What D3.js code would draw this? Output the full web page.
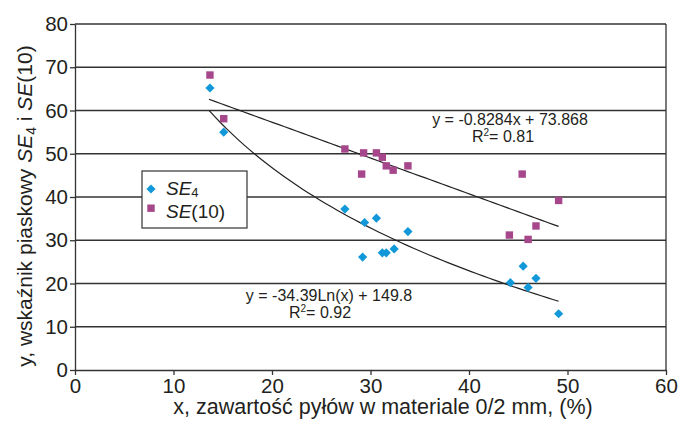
<!DOCTYPE html>
<html>
<head>
<meta charset="utf-8">
<script src="https://cdn.jsdelivr.net/npm/d3@7"></script>
<style>
  body { margin: 0; background: #fff; }
  svg text { font-family: "Liberation Sans", Arial, sans-serif; fill: #231f20; }
</style>
</head>
<body>
<div id="chart"></div>
<script>
"use strict";

// SE4 points (x = dust content %, y = sand equivalent)
var se4X = [13.7, 15.1, 27.4, 29.4, 29.2, 30.6, 31.2, 31.6, 32.4, 33.8, 44.2, 45.5, 46.0, 46.8, 49.1];
var se4Y = [65.2, 55.0, 37.2, 34.1, 26.1, 35.1, 27.1, 27.1, 28.0, 32.0, 20.2, 24.0, 19.1, 21.2, 13.0];

// SE(10) points
var se10X = [13.7, 15.1, 27.4, 29.3, 29.1, 30.6, 31.2, 31.6, 32.3, 33.8, 45.4, 49.1, 44.1, 46.0, 46.8];
var se10Y = [68.2, 58.1, 51.1, 50.2, 45.3, 50.2, 49.2, 47.2, 46.2, 47.2, 45.3, 39.2, 31.2, 30.2, 33.3];

// trendline coefficients as printed on the chart
var linSlope = -0.8284, linIntercept = 73.868;
var logSlope = -34.39, logIntercept = 149.8;
var trendRange = [13.6, 49.1];

var xTicks = [0, 10, 20, 30, 40, 50, 60];
var yTicks = [0, 10, 20, 30, 40, 50, 60, 70, 80];

var width = 683, height = 426;
var svg = d3.select("#chart").append("svg")
    .attr("width", width)
    .attr("height", height);

var x = d3.scaleLinear().domain([0, 60]).range([75, 666]);
var y = d3.scaleLinear().domain([0, 80]).range([370, 24]);

var ink = "#333";

// horizontal grid lines
svg.append("g").selectAll("line")
    .data(yTicks.slice(1))
    .enter().append("line")
    .attr("x1", x(0)).attr("x2", x(60))
    .attr("y1", function(d) { return y(d); })
    .attr("y2", function(d) { return y(d); })
    .attr("stroke", ink).attr("stroke-width", 1.3);

// right border
svg.append("line")
    .attr("x1", x(60)).attr("x2", x(60))
    .attr("y1", y(0)).attr("y2", y(80))
    .attr("stroke", ink).attr("stroke-width", 1.3);

// axes
var xAxis = svg.append("g")
    .attr("transform", "translate(0," + y(0) + ")")
    .call(d3.axisBottom(x).tickValues(xTicks).tickSize(5).tickSizeOuter(0));
var yAxis = svg.append("g")
    .attr("transform", "translate(" + x(0) + ",0)")
    .call(d3.axisLeft(y).tickValues(yTicks).tickSize(5).tickSizeOuter(0));

[xAxis, yAxis].forEach(function(ax) {
    ax.select(".domain").attr("stroke", ink).attr("stroke-width", 1.3);
    ax.selectAll(".tick line").attr("stroke", ink).attr("stroke-width", 1.3);
    ax.selectAll(".tick text")
        .attr("font-family", "Liberation Sans, Arial, sans-serif")
        .attr("font-size", 20.5)
        .attr("fill", "#231f20");
});
xAxis.selectAll(".tick text").attr("y", 8).attr("dy", "0.71em");
yAxis.selectAll(".tick text").attr("x", -7);

// trend lines
var fine = d3.range(0, 61).map(function(i) {
    return trendRange[0] + (trendRange[1] - trendRange[0]) * i / 60;
});
var line = d3.line()
    .x(function(d) { return x(d[0]); })
    .y(function(d) { return y(d[1]); });

svg.append("path")
    .attr("d", line(fine.map(function(v) { return [v, linSlope * v + linIntercept]; })))
    .attr("fill", "none").attr("stroke", "#222").attr("stroke-width", 1.2);
svg.append("path")
    .attr("d", line(fine.map(function(v) { return [v, logSlope * Math.log(v) + logIntercept]; })))
    .attr("fill", "none").attr("stroke", "#222").attr("stroke-width", 1.2);

// markers
var blue = "#1198d8", purple = "#a6468b";
var diamond = "M0,-4.6L4.6,0L0,4.6L-4.6,0Z";

svg.append("g").selectAll("path")
    .data(se4X.map(function(v, i) { return [v, se4Y[i]]; }))
    .enter().append("path")
    .attr("d", diamond)
    .attr("transform", function(d) { return "translate(" + x(d[0]) + "," + y(d[1]) + ")"; })
    .attr("fill", blue);

svg.append("g").selectAll("rect")
    .data(se10X.map(function(v, i) { return [v, se10Y[i]]; }))
    .enter().append("rect")
    .attr("x", function(d) { return x(d[0]) - 3.7; })
    .attr("y", function(d) { return y(d[1]) - 3.7; })
    .attr("width", 7.4).attr("height", 7.4)
    .attr("fill", purple);

// trend equations
function eqLabel(cx, cy, cx2, main, r2) {
    svg.append("text")
        .attr("x", cx).attr("y", cy)
        .attr("text-anchor", "middle")
        .attr("font-size", 16)
        .text(main);
    var t = svg.append("text")
        .attr("x", cx2).attr("y", cy + 17)
        .attr("text-anchor", "middle")
        .attr("font-size", 16);
    t.append("tspan").text("R");
    t.append("tspan").attr("font-size", 10).attr("dy", -6).text("2");
    t.append("tspan").attr("dy", 6).text("= " + r2);
}
eqLabel(510, 125, 503, "y = -0.8284x + 73.868", "0.81");
eqLabel(329, 301, 320, "y = -34.39Ln(x) + 149.8", "0.92");

// legend
var lg = svg.append("g");
lg.append("rect")
    .attr("x", 142).attr("y", 171)
    .attr("width", 105).attr("height", 57)
    .attr("fill", "#fff").attr("stroke", ink).attr("stroke-width", 1.2);
lg.append("path")
    .attr("d", diamond)
    .attr("transform", "translate(151,189)")
    .attr("fill", blue);
lg.append("rect")
    .attr("x", 147.3).attr("y", 204.5).attr("width", 7.4).attr("height", 7.4)
    .attr("fill", purple);
var l1 = lg.append("text").attr("x", 166).attr("y", 195).attr("font-size", 19);
l1.append("tspan").attr("font-style", "italic").text("SE");
l1.append("tspan").attr("font-size", 13).attr("dy", 2).text("4");
var l2 = lg.append("text").attr("x", 166).attr("y", 218).attr("font-size", 19);
l2.append("tspan").attr("font-style", "italic").text("SE");
l2.append("tspan").text("(10)");

// axis titles
svg.append("text")
    .attr("x", 383).attr("y", 414)
    .attr("text-anchor", "middle")
    .attr("font-size", 21.5)
    .text("x, zawartość pyłów w materiale 0/2 mm, (%)");

var yt = svg.append("text")
    .attr("transform", "translate(32,206) rotate(-90)")
    .attr("text-anchor", "middle")
    .attr("font-size", 21);
yt.append("tspan").text("y, wskaźnik piaskowy ");
yt.append("tspan").attr("font-style", "italic").text("SE");
yt.append("tspan").attr("font-size", 14).attr("dy", 4).text("4");
yt.append("tspan").attr("dy", -4).text(" i ");
yt.append("tspan").attr("font-style", "italic").text("SE");
yt.append("tspan").text("(10)");
</script>
</body>
</html>
